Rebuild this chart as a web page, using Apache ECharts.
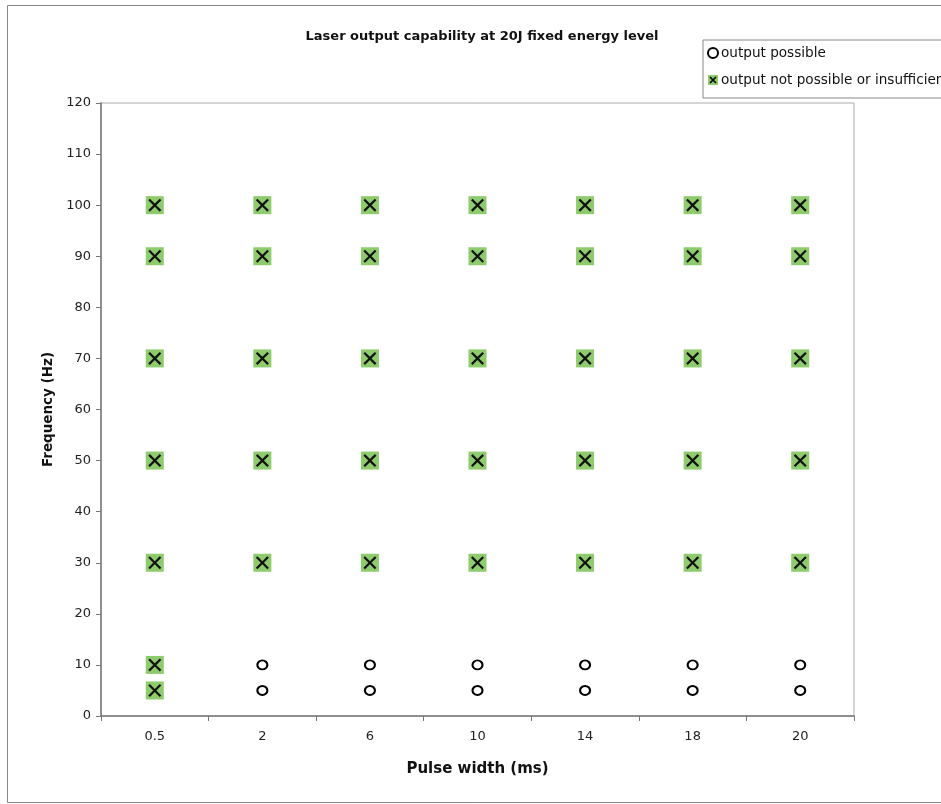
<!DOCTYPE html>
<html>
<head>
<meta charset="utf-8">
<script src="https://cdn.jsdelivr.net/npm/echarts@6/dist/echarts.min.js"></script>
<style>html,body{margin:0;padding:0;background:#fff}#c{width:941px;height:804px}</style>
</head>
<body>
<div id="c"></div>
<script>
var pulseWidths = ['0.5', '2', '6', '10', '14', '18', '20'];
var yTicks = [0, 10, 20, 30, 40, 50, 60, 70, 80, 90, 100, 110, 120];
// output possible: [pulse width, frequency]
var possible = [
  ['2', 5], ['2', 10], ['6', 5], ['6', 10], ['10', 5], ['10', 10],
  ['14', 5], ['14', 10], ['18', 5], ['18', 10], ['20', 5], ['20', 10]
];
// output not possible or insufficient: [pulse width, frequency]
var notPossible = [
  ['0.5', 5], ['0.5', 10], ['0.5', 30], ['0.5', 50], ['0.5', 70], ['0.5', 90], ['0.5', 100],
  ['2', 30], ['2', 50], ['2', 70], ['2', 90], ['2', 100],
  ['6', 30], ['6', 50], ['6', 70], ['6', 90], ['6', 100],
  ['10', 30], ['10', 50], ['10', 70], ['10', 90], ['10', 100],
  ['14', 30], ['14', 50], ['14', 70], ['14', 90], ['14', 100],
  ['18', 30], ['18', 50], ['18', 70], ['18', 90], ['18', 100],
  ['20', 30], ['20', 50], ['20', 70], ['20', 90], ['20', 100]
];
var seriesNames = ['output possible', 'output not possible or insufficient'];
var titleText = 'Laser output capability at 20J fixed energy level';

var FONT = 'DejaVu Sans';
var GREEN = '#8dcb6c';
var crossPath = 'path://M0,1.2L1.2,0L5,3.8L8.8,0L10,1.2L6.2,5L10,8.8L8.8,10L5,6.2L1.2,10L0,8.8L3.8,5Z';
var iconSvg = 'data:image/svg+xml;charset=utf-8,' + encodeURIComponent(
  '<svg xmlns="http://www.w3.org/2000/svg" width="20" height="20" viewBox="0 0 20 20">' +
  '<rect x="0" y="0" width="20" height="20" fill="' + GREEN + '"/>' +
  '<path d="M4,4L16,16M16,4L4,16" stroke="#000" stroke-width="3.2"/></svg>');

var chart = echarts.init(document.getElementById('c'), null, {renderer: 'canvas'});
chart.setOption({
  animation: false,
  backgroundColor: '#fff',
  title: {
    text: titleText,
    left: 477, top: 25, textAlign: 'center',
    textStyle: {fontFamily: FONT, fontSize: 13, fontWeight: 'bold', color: '#111'}
  },
  legend: {
    orient: 'vertical',
    left: 703, top: 40,
    padding: [6, 200, 11, 4],
    itemGap: 13,
    itemWidth: 10, itemHeight: 10,
    borderColor: '#888', borderWidth: 1,
    textStyle: {fontFamily: FONT, fontSize: 13.6, color: '#111', padding: [0, 0, 0, -2]},
    data: [
      {name: seriesNames[0], icon: 'emptyCircle', itemStyle: {color: '#000', borderColor: '#000', borderWidth: 1.5}},
      {name: seriesNames[1], icon: 'image://' + iconSvg}
    ]
  },
  graphic: [{
    type: 'rect', silent: true, z: -1,
    shape: {x: 7.5, y: 5.5, width: 1000, height: 797},
    style: {fill: 'none', stroke: '#888', lineWidth: 1}
  }],
  grid: {left: 101, top: 103, right: 87, bottom: 88, show: true, borderColor: '#aaa', borderWidth: 1, backgroundColor: '#fff'},
  xAxis: {
    type: 'category',
    data: pulseWidths,
    boundaryGap: true,
    name: 'Pulse width (ms)',
    nameLocation: 'middle',
    nameGap: 46,
    nameTextStyle: {fontFamily: FONT, fontSize: 15, fontWeight: 'bold', color: '#111'},
    axisLine: {lineStyle: {color: '#777', width: 1.5}},
    axisTick: {show: true, inside: false, length: 5, lineStyle: {color: '#777'}},
    axisLabel: {fontFamily: FONT, fontSize: 13, color: '#222', margin: 14},
    splitLine: {show: false}
  },
  yAxis: {
    type: 'value',
    min: yTicks[0], max: yTicks[yTicks.length - 1], interval: 10,
    name: 'Frequency (Hz)',
    nameLocation: 'middle',
    nameGap: 46,
    nameTextStyle: {fontFamily: FONT, fontSize: 13.5, fontWeight: 'bold', color: '#111'},
    axisLine: {show: true, lineStyle: {color: '#777', width: 1.5}},
    axisTick: {show: true, inside: false, length: 5, lineStyle: {color: '#777'}},
    axisLabel: {fontFamily: FONT, fontSize: 13, color: '#222', margin: 10},
    splitLine: {show: false}
  },
  series: [
    {
      name: seriesNames[0], type: 'scatter', data: possible,
      symbol: 'emptyCircle', symbolSize: [10, 9],
      itemStyle: {color: '#000', borderColor: '#000', borderWidth: 1.8, opacity: 1}
    },
    {
      name: seriesNames[1], type: 'scatter', data: notPossible,
      symbol: 'rect', symbolSize: 18,
      itemStyle: {color: GREEN, opacity: 1}
    },
    {
      name: seriesNames[1] + ' (cross)', type: 'scatter', data: notPossible,
      symbol: crossPath, symbolSize: 13, z: 3,
      itemStyle: {color: '#111', opacity: 1}
    }
  ]
});
</script>
</body>
</html>
